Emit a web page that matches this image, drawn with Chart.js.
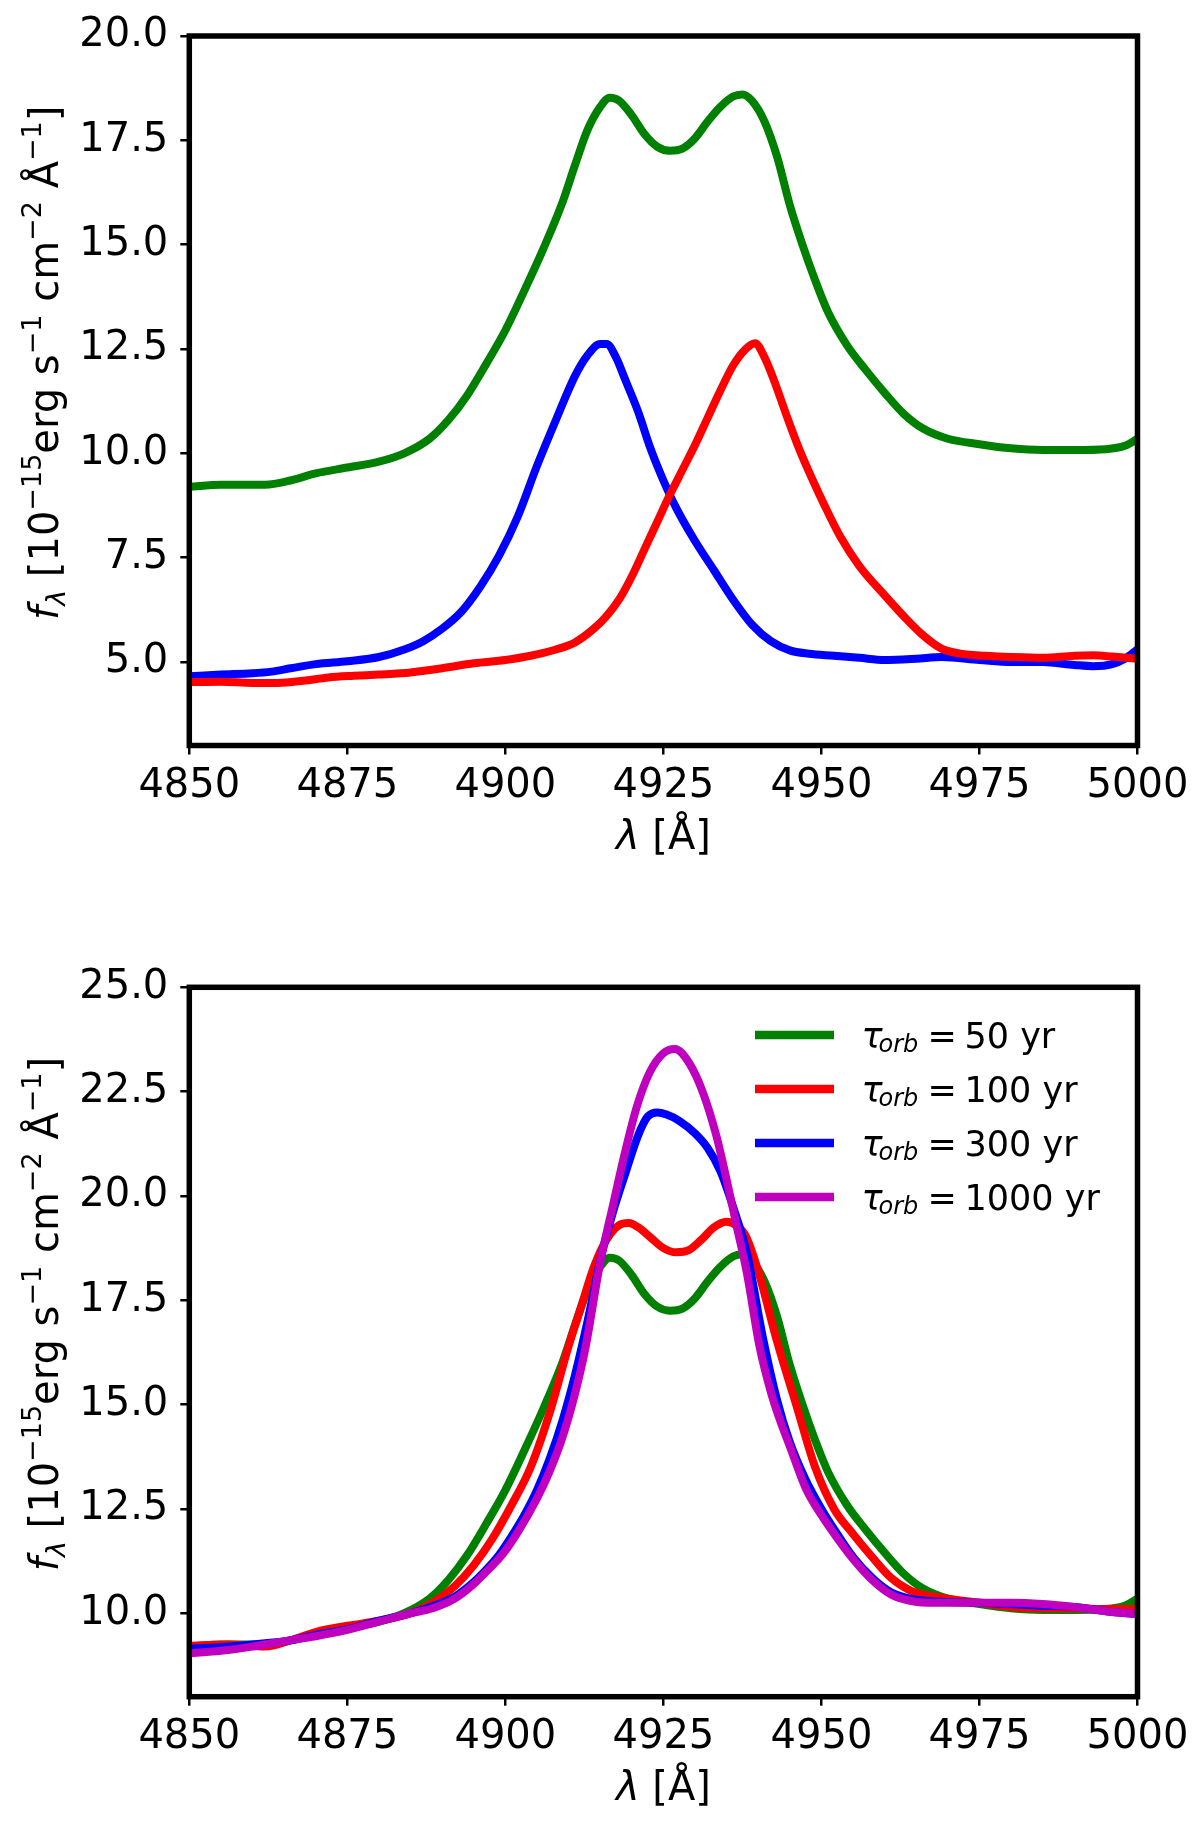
<!DOCTYPE html>
<html><head><meta charset="utf-8">
<script src="https://cdn.jsdelivr.net/npm/chart.js@4"></script>
<style>
html,body{margin:0;padding:0;background:#fff;}
#wrap{position:relative;width:1200px;height:1834px;background:#fff;}
canvas{position:absolute;left:0;}
</style></head><body>
<div id="wrap">
<canvas id="c1" width="1200" height="917" style="top:0;width:1200px;height:917px"></canvas>
<canvas id="c2" width="1200" height="917" style="top:917px;width:1200px;height:917px"></canvas>
</div>
<script>
// ---------- data ----------
const xTicks = [4850, 4875, 4900, 4925, 4950, 4975, 5000];
const yTicksTop = [5.0, 7.5, 10.0, 12.5, 15.0, 17.5, 20.0];
const yTicksBottom = [10.0, 12.5, 15.0, 17.5, 20.0, 22.5, 25.0];
const periods = [50, 100, 300, 1000];

// tau_orb = 50 yr (total profile, shown in both panels)
const greenX = [4850,4855,4862,4866,4870,4875,4880,4884,4888,4891,4894,4897,4900,4903,4906,4909,4911,4913,4915,4916.5,4918,4920,4922,4924,4926,4928,4930,4932,4934,4936,4937.5,4939,4941,4943,4945,4947,4949,4951,4954,4957,4960,4963,4966,4970,4975,4980,4985,4990,4995,4998,5000];
const greenY = [9.2,9.25,9.25,9.35,9.52,9.66,9.8,10.0,10.35,10.8,11.4,12.15,12.95,13.9,14.9,16.0,16.9,17.75,18.3,18.52,18.45,18.1,17.65,17.35,17.25,17.3,17.55,17.95,18.3,18.55,18.6,18.45,17.95,17.1,15.95,15.0,14.15,13.4,12.6,12.0,11.45,10.95,10.6,10.35,10.22,10.12,10.08,10.08,10.1,10.18,10.35];

// top panel components
const blueTopX = [4850,4855,4860,4863,4866,4870,4875,4880,4884,4887,4890,4893,4896,4899,4902,4905,4908,4911,4913,4915,4916,4917.5,4919,4921,4923,4925,4927,4930,4933,4936,4939,4942,4945,4948,4952,4956,4960,4965,4969,4975,4980,4985,4990,4993,4996,4998,5000];
const blueTopY = [4.66,4.7,4.73,4.77,4.85,4.95,5.02,5.12,5.3,5.5,5.8,6.2,6.8,7.55,8.5,9.7,10.8,11.85,12.35,12.62,12.62,12.3,11.75,11.0,10.1,9.35,8.7,7.9,7.2,6.5,5.9,5.5,5.28,5.2,5.15,5.1,5.05,5.08,5.12,5.05,5.0,5.0,4.93,4.9,4.95,5.08,5.3];
const redTopX = [4850,4855,4860,4864,4868,4872,4876,4880,4885,4890,4895,4900,4904,4908,4911,4914,4916,4918,4920,4922,4924,4926,4928,4930,4932,4934,4936,4938,4939.5,4941,4942.5,4944.5,4946.5,4948.5,4950.5,4953,4956,4960,4963,4966,4969,4972,4976,4980,4985,4990,4993,4996,5000];
const redTopY = [4.52,4.53,4.5,4.5,4.55,4.63,4.67,4.7,4.75,4.85,4.97,5.05,5.15,5.3,5.47,5.8,6.1,6.5,7.05,7.7,8.35,9.0,9.6,10.2,10.85,11.5,12.1,12.5,12.64,12.3,11.75,10.9,10.1,9.4,8.75,8.0,7.3,6.6,6.1,5.65,5.32,5.2,5.15,5.12,5.1,5.15,5.16,5.13,5.08];

// bottom panel: tau_orb = 100, 300, 1000 yr
const redX = [4850,4856,4862,4866,4870,4875,4880,4885,4889,4892,4895,4898,4901,4904,4907,4910,4912,4914,4916,4918,4919.5,4921,4923,4925,4927,4929,4931,4933,4935,4936.5,4938,4940,4943,4946,4949,4952,4955,4958,4961,4964,4967,4970,4975,4980,4985,4990,4995,5000];
const redY = [9.22,9.25,9.2,9.35,9.55,9.7,9.82,10.0,10.3,10.65,11.15,11.8,12.6,13.5,14.8,16.4,17.35,18.3,18.95,19.3,19.35,19.25,19.0,18.75,18.65,18.7,18.95,19.25,19.38,19.3,19.05,18.2,16.5,15.0,13.5,12.5,11.9,11.35,10.85,10.55,10.42,10.35,10.25,10.15,10.12,10.12,10.1,10.1];
const blueX = [4850,4856,4862,4866,4870,4875,4880,4885,4889,4892,4895,4897,4899,4901,4903,4905,4907,4909,4911,4913,4915,4917,4919,4921,4922.5,4924,4925.5,4927.5,4930,4932,4934,4936,4938.2,4940.8,4943,4945,4947.5,4950,4952.5,4955,4958,4961,4964,4968,4975,4980,4985,4990,4995,5000];
const blueY = [9.15,9.2,9.28,9.35,9.48,9.62,9.82,10.0,10.2,10.4,10.75,11.05,11.4,11.85,12.35,12.95,13.7,14.6,15.7,17.0,18.45,19.6,20.55,21.45,21.9,22.0,21.95,21.8,21.5,21.15,20.6,19.75,18.64,16.56,15.1,14.1,13.2,12.5,11.9,11.35,10.85,10.5,10.35,10.28,10.25,10.22,10.18,10.15,10.05,9.98];
const purpleX = [4850,4855,4860,4865,4870,4875,4880,4885,4888.5,4892,4895,4897,4899.5,4902,4905,4907,4909,4911,4912.6,4915,4917.1,4918.9,4920.8,4922.9,4925,4926.8,4929.1,4931.3,4933.4,4935,4936.6,4938.2,4940.2,4942,4943.5,4945,4947.5,4950,4952.5,4955,4958,4961,4964,4968,4975,4980,4985,4990,4995,5000];
const purpleY = [9.04,9.1,9.2,9.33,9.45,9.6,9.8,10.0,10.12,10.35,10.7,11.0,11.4,11.95,12.75,13.4,14.2,15.25,16.3,18.4,19.83,21.03,22.14,22.98,23.42,23.52,23.18,22.46,21.43,20.39,19.27,18.16,16.4,15.3,14.6,14.0,13.0,12.35,11.8,11.3,10.8,10.45,10.3,10.25,10.25,10.25,10.22,10.15,10.05,9.98];

// ---------- helpers ----------
const FAM = "'DejaVu Sans'";
const GREEN = '#008000', RED = '#ff0000', BLUE = '#0000ff', MAG = '#bf00bf';
const LW = 8;
function pts(xs, ys) { const n = Math.min(xs.length, ys.length); const o = []; for (let i = 0; i < n; i++) o.push({x: xs[i], y: ys[i]}); return o; }
function ds(label, xs, ys, color, order) {
  return { label, data: pts(xs, ys), borderColor: color, backgroundColor: color, borderWidth: LW,
    pointRadius: 0, fill: false, cubicInterpolationMode: 'monotone', order, borderJoinStyle: 'round', borderCapStyle: 'butt' };
}
function drawRich(ctx, segs, x, y, align) {
  let w = 0;
  segs.forEach(s => { ctx.font = s.font; w += ctx.measureText(s.t).width; });
  let cx = align === 'center' ? x - w / 2 : x;
  segs.forEach(s => { ctx.font = s.font; ctx.fillText(s.t, cx, y + (s.dy || 0)); cx += ctx.measureText(s.t).width; });
}
const M = (sz) => `${sz}px ${FAM}`;
const I = (sz) => `oblique ${sz}px ${FAM}`;

const decorPlugin = {
  id: 'decor',
  afterDatasetsDraw(chart) {
    const {ctx, chartArea: a} = chart;
    ctx.save();
    // frame
    ctx.strokeStyle = '#000'; ctx.lineWidth = 5.5;
    ctx.strokeRect(a.left, a.top, a.right - a.left, a.bottom - a.top);
    ctx.fillStyle = '#000'; ctx.textBaseline = 'alphabetic'; ctx.textAlign = 'left';
    // x title
    drawRich(ctx, [{t: 'λ', font: I(40)}, {t: ' [Å]', font: M(40)}], (a.left + a.right) / 2, a.bottom + 103.5, 'center');
    // y title
    ctx.save();
    ctx.translate(57.7, (a.top + a.bottom) / 2 - 28);
    ctx.rotate(-Math.PI / 2);
    const sup = -17, supF = M(27);
    drawRich(ctx, [
      {t: 'f', font: I(40)}, {t: 'λ', font: I(27), dy: 7},
      {t: ' [10', font: M(40)}, {t: '−15', font: supF, dy: sup},
      {t: 'erg s', font: M(40)}, {t: '−1', font: supF, dy: sup},
      {t: ' cm', font: M(40)}, {t: '−2', font: supF, dy: sup},
      {t: ' Å', font: M(40)}, {t: '−1', font: supF, dy: sup},
      {t: ']', font: M(40)}
    ], 0, 0, 'center');
    ctx.restore();
    // legend
    if (chart.options.plugins.decor && chart.options.plugins.decor.legend) {
      const dsets = chart.data.datasets;
      const order = chart.options.plugins.decor.legend;
      order.forEach((idx, row) => {
        const d = dsets[idx];
        const yc = a.top + 47.7 + row * 54;
        ctx.strokeStyle = d.borderColor; ctx.lineWidth = 8.5; ctx.lineCap = 'butt';
        ctx.beginPath(); ctx.moveTo(a.right - 382.5, yc); ctx.lineTo(a.right - 303.5, yc); ctx.stroke();
        const tx = a.right - 276, by = yc + 13.3;
        ctx.fillStyle = '#000';
        ctx.font = I(35); ctx.fillText('τ', tx, by);
        ctx.font = I(24); ctx.fillText('orb', tx + 17, by + 3.5);
        ctx.font = M(35); ctx.fillText('=', tx + 66, by);
        ctx.fillText(periods[row] + ' yr', tx + 103, by);
      });
    }
    ctx.restore();
  }
};

function makeOptions(yMin, yMax, yTicks, pad, legend) {
  return {
    responsive: false, animation: false, devicePixelRatio: 1,
    layout: { padding: pad },
    plugins: { legend: { display: false }, tooltip: { enabled: false }, decor: { legend } },
    scales: {
      x: {
        type: 'linear', min: 4850, max: 5000,
        afterBuildTicks: s => { s.ticks = xTicks.map(v => ({value: v})); },
        afterFit: s => { s.height = 100; },
        ticks: { font: {family: FAM, size: 40}, color: '#000', padding: 8, maxRotation: 0, autoSkip: false, callback: v => String(v) },
        grid: { display: true, drawOnChartArea: false, drawTicks: true, tickLength: 9, color: '#000', lineWidth: 2.5 },
        border: { display: false }
      },
      y: {
        type: 'linear', min: yMin, max: yMax,
        afterBuildTicks: s => { s.ticks = yTicks.map(v => ({value: v})); },
        afterFit: s => { s.width = 189.3; },
        ticks: { font: {family: FAM, size: 40}, color: '#000', padding: 12, autoSkip: false, callback: v => Number(v).toFixed(1) },
        grid: { display: true, drawOnChartArea: false, drawTicks: true, tickLength: 9, color: '#000', lineWidth: 2.5 },
        border: { display: false }
      }
    }
  };
}

new Chart(document.getElementById('c1'), {
  type: 'line',
  data: { datasets: [
    ds('total', greenX, greenY, GREEN, 3),
    ds('blue component', blueTopX, blueTopY, BLUE, 2),
    ds('red component', redTopX, redTopY, RED, 1)
  ]},
  options: makeOptions(3, 20, yTicksTop, {top: 34, right: 62.5, bottom: 71.5, left: 0}, null),
  plugins: [decorPlugin]
});

new Chart(document.getElementById('c2'), {
  type: 'line',
  data: { datasets: [
    ds('τorb = 50 yr', greenX, greenY, GREEN, 4),
    ds('τorb = 100 yr', redX, redY, RED, 3),
    ds('τorb = 300 yr', blueX, blueY, BLUE, 2),
    ds('τorb = 1000 yr', purpleX, purpleY, MAG, 1)
  ]},
  options: makeOptions(8, 25, yTicksBottom, {top: 70.3, right: 62.5, bottom: 37.3, left: 0}, [0, 1, 2, 3]),
  plugins: [decorPlugin]
});
</script>
</body></html>
